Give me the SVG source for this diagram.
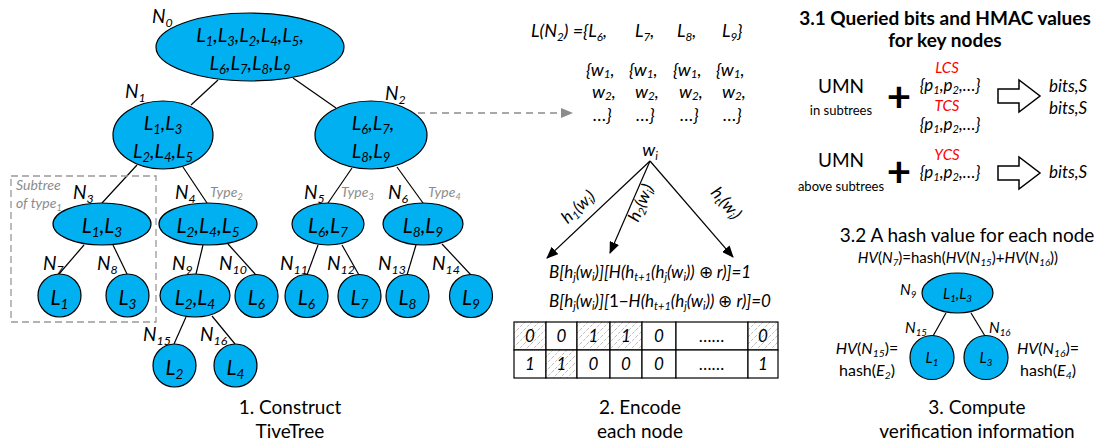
<svg xmlns="http://www.w3.org/2000/svg" width="1098" height="443" viewBox="0 0 1098 443">
  <style>
    text { font-family: Lato, "Open Sans", "Liberation Sans", sans-serif; fill: #000; }
    .i { font-style: italic; }
    .n { font-style: normal; }
    .b { font-weight: bold; }
    .sb { font-size: 65%; baseline-shift: -0.3em; }
    .sl { font-size: 65%; baseline-shift: -0.2em; }
    .f21 { font-size: 21px; }
    .f20 { font-size: 20px; }
    .f19 { font-size: 19px; }
    .f18 { font-size: 18px; }
    .f17 { font-size: 17px; }
    .f16 { font-size: 16px; }
    .f15 { font-size: 15px; }
    .f14 { font-size: 14px; }
    .f13 { font-size: 13px; }
    .gray { fill: #8c8c8c; }
    .red { fill: #ff0000; }
    .mid { text-anchor: middle; }
    .node { fill: #00b0f0; stroke: #000; stroke-width: 1.2; }
    .edge { stroke: #000; stroke-width: 1.2; fill: none; }
    .cell { fill: #fff; stroke: #000; stroke-width: 1.2; }
    .hatch { fill: url(#hatch); stroke: #000; stroke-width: 1.2; }
  </style>
  <defs>
    <pattern id="hatch" patternUnits="userSpaceOnUse" width="7" height="7">
      <rect width="7" height="7" fill="#fff"/>
      <path d="M-1,8 L8,-1" stroke="#b4b4b4" stroke-width="0.9" stroke-dasharray="3 1.5"/>
    </pattern>
    <marker id="ahBlack" viewBox="0 0 12 10" refX="11" refY="5" markerWidth="12" markerHeight="10" markerUnits="userSpaceOnUse" orient="auto">
      <path d="M0,0 L12,5 L0,10 Z" fill="#000"/>
    </marker>
    <marker id="ahGray" viewBox="0 0 12 10" refX="11" refY="5" markerWidth="12" markerHeight="10" markerUnits="userSpaceOnUse" orient="auto">
      <path d="M0,0 L12,5 L0,10 Z" fill="#8c8c8c"/>
    </marker>
  </defs>

  <rect width="1098" height="443" fill="#fff"/>

  <!-- ============ Part 1: tree ============ -->
  <g id="connectors">
    <line class="edge" x1="218" y1="80" x2="191" y2="105"/>
    <line class="edge" x1="293" y1="78" x2="336" y2="108"/>
    <line class="edge" x1="137" y1="165" x2="102" y2="203"/>
    <line class="edge" x1="183" y1="167" x2="207" y2="203"/>
    <line class="edge" x1="352" y1="168" x2="328" y2="203"/>
    <line class="edge" x1="397" y1="167" x2="423" y2="203"/>
    <line class="edge" x1="84" y1="245" x2="59" y2="274"/>
    <line class="edge" x1="113" y1="245" x2="127" y2="274"/>
    <line class="edge" x1="203" y1="245" x2="196" y2="274"/>
    <line class="edge" x1="228" y1="244" x2="256" y2="275"/>
    <line class="edge" x1="318" y1="245" x2="307" y2="275"/>
    <line class="edge" x1="342" y1="245" x2="359" y2="275"/>
    <line class="edge" x1="416" y1="245" x2="407" y2="275"/>
    <line class="edge" x1="442" y1="244" x2="471" y2="275"/>
    <line class="edge" x1="186" y1="317" x2="174" y2="344"/>
    <line class="edge" x1="212" y1="316" x2="235" y2="344"/>
    <!-- N2 leaf sets -->
    <line x1="418" y1="113" x2="572" y2="113" stroke="#8c8c8c" stroke-width="1.5" stroke-dasharray="7 5" marker-end="url(#ahGray)"/>
    <!-- hash functions -->
    <line class="edge" x1="650" y1="161" x2="547" y2="258" stroke-width="1.5" marker-end="url(#ahBlack)"/>
    <line class="edge" x1="650" y1="161" x2="610" y2="253" stroke-width="1.5" marker-end="url(#ahBlack)"/>
    <line class="edge" x1="650" y1="161" x2="733" y2="257" stroke-width="1.5" marker-end="url(#ahBlack)"/>
    <!-- small tree in 3.2 -->
    <line class="edge" x1="946" y1="313" x2="933" y2="336"/>
    <line class="edge" x1="971" y1="313" x2="985" y2="336"/>
  </g>

  <!-- subtree frame -->
  <g id="subtree-frame">
    <rect x="11" y="176" width="145" height="146" fill="none" stroke="#999" stroke-width="1.3" stroke-dasharray="7 4"/>
    <text class="i f14 gray" x="16" y="190">Subtree</text>
    <text class="i f14 gray" x="16" y="208">of type<tspan class="sb">1</tspan></text>
  </g>

  <g id="N0">
    <ellipse class="node" cx="250" cy="47" rx="94" ry="34"/>
    <text class="i f19" x="152" y="23">N<tspan class="sb">0</tspan></text>
    <text class="i f20 mid" x="250" y="42">L<tspan class="sb">1</tspan>,L<tspan class="sb">3</tspan>,L<tspan class="sb">2</tspan>,L<tspan class="sb">4</tspan>,L<tspan class="sb">5</tspan>,</text>
    <text class="i f20 mid" x="250" y="70">L<tspan class="sb">6</tspan>,L<tspan class="sb">7</tspan>,L<tspan class="sb">8</tspan>,L<tspan class="sb">9</tspan></text>
  </g>
  <g id="N1">
    <ellipse class="node" cx="163" cy="135" rx="50" ry="34"/>
    <text class="i f19" x="125" y="98">N<tspan class="sb">1</tspan></text>
    <text class="i f20 mid" x="163" y="130">L<tspan class="sb">1</tspan>,L<tspan class="sb">3</tspan></text>
    <text class="i f20 mid" x="163" y="158">L<tspan class="sb">2</tspan>,L<tspan class="sb">4</tspan>,L<tspan class="sb">5</tspan></text>
  </g>
  <g id="N2">
    <ellipse class="node" cx="371" cy="135" rx="56" ry="34"/>
    <text class="i f19" x="385" y="100">N<tspan class="sb">2</tspan></text>
    <text class="i f20 mid" x="373" y="130">L<tspan class="sb">6</tspan>,L<tspan class="sb">7</tspan>,</text>
    <text class="i f20 mid" x="371" y="158">L<tspan class="sb">8</tspan>,L<tspan class="sb">9</tspan></text>
  </g>
  <g id="N3">
    <ellipse class="node" cx="102" cy="224" rx="49" ry="21"/>
    <text class="i f19" x="73" y="199">N<tspan class="sb">3</tspan></text>
    <text class="i f21 mid" x="102" y="233">L<tspan class="sb">1</tspan>,L<tspan class="sb">3</tspan></text>
  </g>
  <g id="N4">
    <ellipse class="node" cx="208" cy="224" rx="49" ry="21"/>
    <text class="i f19" x="175" y="199">N<tspan class="sb">4</tspan></text>
    <text class="i f14 gray" x="210" y="197">Type<tspan class="sb">2</tspan></text>
    <text class="i f21 mid" x="208" y="233">L<tspan class="sb">2</tspan>,L<tspan class="sb">4</tspan>,L<tspan class="sb">5</tspan></text>
  </g>
  <g id="N5">
    <ellipse class="node" cx="328" cy="224" rx="36" ry="21"/>
    <text class="i f19" x="304" y="199">N<tspan class="sb">5</tspan></text>
    <text class="i f14 gray" x="341" y="197">Type<tspan class="sb">3</tspan></text>
    <text class="i f21 mid" x="328" y="233">L<tspan class="sb">6</tspan>,L<tspan class="sb">7</tspan></text>
  </g>
  <g id="N6">
    <ellipse class="node" cx="423" cy="224" rx="40" ry="21"/>
    <text class="i f19" x="388" y="199">N<tspan class="sb">6</tspan></text>
    <text class="i f14 gray" x="428" y="197">Type<tspan class="sb">4</tspan></text>
    <text class="i f21 mid" x="423" y="233">L<tspan class="sb">8</tspan>,L<tspan class="sb">9</tspan></text>
  </g>
  <g id="N7">
    <circle class="node" cx="59.5" cy="295.5" r="21.5"/>
    <text class="i f19" x="43" y="270">N<tspan class="sb">7</tspan></text>
    <text class="i f21 mid" x="59.5" y="305">L<tspan class="sb">1</tspan></text>
  </g>
  <g id="N8">
    <circle class="node" cx="127.5" cy="295.5" r="21.5"/>
    <text class="i f19" x="97" y="270">N<tspan class="sb">8</tspan></text>
    <text class="i f21 mid" x="127.5" y="305">L<tspan class="sb">3</tspan></text>
  </g>
  <g id="N9">
    <ellipse class="node" cx="195" cy="295.5" rx="35" ry="21.5"/>
    <text class="i f19" x="172" y="270">N<tspan class="sb">9</tspan></text>
    <text class="i f21 mid" x="195" y="305">L<tspan class="sb">2</tspan>,L<tspan class="sb">4</tspan></text>
  </g>
  <g id="N10">
    <circle class="node" cx="256.5" cy="296" r="21.5"/>
    <text class="i f19" x="219" y="270">N<tspan class="sb">10</tspan></text>
    <text class="i f21 mid" x="256.5" y="305">L<tspan class="sb">6</tspan></text>
  </g>
  <g id="N11">
    <circle class="node" cx="306.5" cy="296" r="21.5"/>
    <text class="i f19" x="280" y="270">N<tspan class="sb">11</tspan></text>
    <text class="i f21 mid" x="306.5" y="305">L<tspan class="sb">6</tspan></text>
  </g>
  <g id="N12">
    <circle class="node" cx="359.5" cy="296" r="21.5"/>
    <text class="i f19" x="327" y="270">N<tspan class="sb">12</tspan></text>
    <text class="i f21 mid" x="359.5" y="305">L<tspan class="sb">7</tspan></text>
  </g>
  <g id="N13">
    <circle class="node" cx="407.5" cy="296" r="21.5"/>
    <text class="i f19" x="378" y="270">N<tspan class="sb">13</tspan></text>
    <text class="i f21 mid" x="407.5" y="305">L<tspan class="sb">8</tspan></text>
  </g>
  <g id="N14">
    <circle class="node" cx="471" cy="296" r="21.5"/>
    <text class="i f19" x="432" y="270">N<tspan class="sb">14</tspan></text>
    <text class="i f21 mid" x="471" y="305">L<tspan class="sb">9</tspan></text>
  </g>
  <g id="N15">
    <circle class="node" cx="174.5" cy="365.5" r="21.5"/>
    <text class="i f19" x="143" y="341">N<tspan class="sb">15</tspan></text>
    <text class="i f21 mid" x="174.5" y="375">L<tspan class="sb">2</tspan></text>
  </g>
  <g id="N16">
    <circle class="node" cx="235.5" cy="365.5" r="21.5"/>
    <text class="i f19" x="200" y="341">N<tspan class="sb">16</tspan></text>
    <text class="i f21 mid" x="235.5" y="375">L<tspan class="sb">4</tspan></text>
  </g>

  <g id="caption-1">
    <text class="f19 mid" x="290" y="414">1. Construct</text>
    <text class="f19 mid" x="290" y="438">TiveTree</text>
  </g>

  <!-- ============ Part 2: encoding ============ -->
  <g id="leaf-sets">
    <text class="i f18" x="531" y="37">L(N<tspan class="sb">2</tspan>) ={L<tspan class="sb">6</tspan>,</text>
    <text class="i f18" x="635" y="37">L<tspan class="sb">7</tspan>,</text>
    <text class="i f18" x="677" y="37">L<tspan class="sb">8</tspan>,</text>
    <text class="i f18" x="722" y="37">L<tspan class="sb">9</tspan>}</text>

    <text class="i f18" x="586" y="76">{w<tspan class="sl">1</tspan>,</text>
    <text class="i f18" x="629" y="76">{w<tspan class="sl">1</tspan>,</text>
    <text class="i f18" x="673" y="76">{w<tspan class="sl">1</tspan>,</text>
    <text class="i f18" x="716" y="76">{w<tspan class="sl">1</tspan>,</text>
    <text class="i f18" x="592" y="98">w<tspan class="sl">2</tspan>,</text>
    <text class="i f18" x="635" y="98">w<tspan class="sl">2</tspan>,</text>
    <text class="i f18" x="679" y="98">w<tspan class="sl">2</tspan>,</text>
    <text class="i f18" x="722" y="98">w<tspan class="sl">2</tspan>,</text>
    <text class="i f18" x="593" y="121">…}</text>
    <text class="i f18" x="636" y="121">…}</text>
    <text class="i f18" x="680" y="121">…}</text>
    <text class="i f18" x="723" y="121">…}</text>
  </g>

  <g id="keyword">
    <text class="i f18 mid" x="650" y="156">w<tspan class="sb">i</tspan></text>
    <text class="i f17 mid" transform="translate(582,211) rotate(-43)">h<tspan class="sb">1</tspan>(w<tspan class="sb">i</tspan>)</text>
    <text class="i f17 mid" transform="translate(646,205) rotate(-66.5)">h<tspan class="sb">2</tspan>(w<tspan class="sb">i</tspan>)</text>
    <text class="i f17 mid" transform="translate(722,207) rotate(49)">h<tspan class="sb">t</tspan>(w<tspan class="sb">i</tspan>)</text>
  </g>

  <g id="bit-rules">
    <text class="i f17" x="549" y="278">B[h<tspan class="sb">j</tspan>(w<tspan class="sb">i</tspan>)][H(h<tspan class="sb">t+1</tspan>(h<tspan class="sb">j</tspan>(w<tspan class="sb">i</tspan>)) <tspan class="n">⊕</tspan> r)]=1</text>
    <text class="i f17" x="549" y="307">B[h<tspan class="sb">j</tspan>(w<tspan class="sb">i</tspan>)][<tspan class="n">1−</tspan>H(h<tspan class="sb">t+1</tspan>(h<tspan class="sb">j</tspan>(w<tspan class="sb">i</tspan>)) <tspan class="n">⊕</tspan> r)]=0</text>
  </g>

  <g id="bit-array">
    <rect class="hatch" x="514" y="322" width="32" height="28"/>
    <rect class="cell" x="546" y="322" width="31" height="28"/>
    <rect class="hatch" x="577" y="322" width="33" height="28"/>
    <rect class="hatch" x="610" y="322" width="32" height="28"/>
    <rect class="cell" x="642" y="322" width="34" height="28"/>
    <rect class="cell" x="676" y="322" width="72" height="28"/>
    <rect class="hatch" x="748" y="322" width="30" height="28"/>
    <rect class="cell" x="514" y="350" width="32" height="28"/>
    <rect class="hatch" x="546" y="350" width="31" height="28"/>
    <rect class="cell" x="577" y="350" width="33" height="28"/>
    <rect class="cell" x="610" y="350" width="32" height="28"/>
    <rect class="cell" x="642" y="350" width="34" height="28"/>
    <rect class="cell" x="676" y="350" width="72" height="28"/>
    <rect class="cell" x="748" y="350" width="30" height="28"/>
    <g class="i f17">
      <text class="mid" x="530" y="342">0</text>
      <text class="mid" x="561.5" y="342">0</text>
      <text class="mid" x="593.5" y="342">1</text>
      <text class="mid" x="626" y="342">1</text>
      <text class="mid" x="659" y="342">0</text>
      <text class="mid" x="712" y="342">……</text>
      <text class="mid" x="763" y="342">0</text>
      <text class="mid" x="530" y="370">1</text>
      <text class="mid" x="561.5" y="370">1</text>
      <text class="mid" x="593.5" y="370">0</text>
      <text class="mid" x="626" y="370">0</text>
      <text class="mid" x="659" y="370">0</text>
      <text class="mid" x="712" y="370">……</text>
      <text class="mid" x="763" y="370">1</text>
    </g>
  </g>

  <g id="caption-2">
    <text class="f19 mid" x="640" y="414">2. Encode</text>
    <text class="f19 mid" x="640" y="438">each node</text>
  </g>

  <!-- ============ Part 3: verification ============ -->
  <g id="queried-bits">
    <text class="b f19 mid" x="945" y="25">3.1 Queried bits and HMAC values</text>
    <text class="b f19 mid" x="945" y="47">for key nodes</text>

    <text class="f19 mid" x="841" y="93">UMN</text>
    <text class="f13 mid" x="841" y="115">in subtrees</text>
    <text class="b mid" x="899" y="112" font-size="42">+</text>
    <text class="i f15 red mid" x="947" y="73">LCS</text>
    <text class="i f17 mid" x="950" y="91">{p<tspan class="sb">1</tspan>,p<tspan class="sb">2</tspan>,…}</text>
    <text class="i f15 red mid" x="947" y="111">TCS</text>
    <text class="i f17 mid" x="950" y="130">{p<tspan class="sb">1</tspan>,p<tspan class="sb">2</tspan>,…}</text>
    <path d="M998,89 H1019 V80 L1040,96 L1019,112 V103 H998 Z" fill="#fff" stroke="#000" stroke-width="1.5"/>
    <text class="i f17" x="1049" y="92">bits,S</text>
    <text class="i f17" x="1049" y="114">bits,S</text>

    <text class="f19 mid" x="841" y="167">UMN</text>
    <text class="f13 mid" x="841" y="191">above subtrees</text>
    <text class="b mid" x="899" y="187" font-size="42">+</text>
    <text class="i f15 red mid" x="947" y="160">YCS</text>
    <text class="i f17 mid" x="950" y="178">{p<tspan class="sb">1</tspan>,p<tspan class="sb">2</tspan>,…}</text>
    <path d="M998,166 H1019 V157 L1040,173 L1019,189 V180 H998 Z" fill="#fff" stroke="#000" stroke-width="1.5"/>
    <text class="i f17" x="1049" y="178">bits,S</text>
  </g>

  <g id="hash-values">
    <text class="f19 mid" x="967" y="242">3.2 A hash value for each node</text>
    <text class="f15 mid" x="958" y="263"><tspan class="i">HV</tspan>(<tspan class="i">N<tspan class="sb">7</tspan></tspan>)=hash(<tspan class="i">HV</tspan>(<tspan class="i">N<tspan class="sb">15</tspan></tspan>)+<tspan class="i">HV</tspan>(<tspan class="i">N<tspan class="sb">16</tspan></tspan>))</text>
  </g>
  <g id="H-N9">
    <ellipse class="node" cx="957.5" cy="293" rx="35.5" ry="20"/>
    <text class="i f15" x="900" y="295">N<tspan class="sb">9</tspan></text>
    <text class="i f15 mid" x="957.5" y="299">L<tspan class="sb">1</tspan>,L<tspan class="sb">3</tspan></text>
  </g>
  <g id="H-N15">
    <circle class="node" cx="932" cy="357.5" r="22"/>
    <text class="i f15" x="905" y="333">N<tspan class="sb">15</tspan></text>
    <text class="i f15 mid" x="932" y="363">L<tspan class="sb">1</tspan></text>
    <text class="f16 mid" x="867" y="354"><tspan class="i">HV</tspan>(<tspan class="i">N<tspan class="sb">15</tspan></tspan>)=</text>
    <text class="f16 mid" x="867" y="376">hash(<tspan class="i">E<tspan class="sb">2</tspan></tspan>)</text>
  </g>
  <g id="H-N16">
    <circle class="node" cx="986" cy="357.5" r="22"/>
    <text class="i f15" x="989" y="333">N<tspan class="sb">16</tspan></text>
    <text class="i f15 mid" x="986" y="363">L<tspan class="sb">3</tspan></text>
    <text class="f16 mid" x="1048" y="354"><tspan class="i">HV</tspan>(<tspan class="i">N<tspan class="sb">16</tspan></tspan>)=</text>
    <text class="f16 mid" x="1048" y="376">hash(<tspan class="i">E<tspan class="sb">4</tspan></tspan>)</text>
  </g>

  <g id="caption-3">
    <text class="f19 mid" x="977" y="414">3. Compute</text>
    <text class="f19 mid" x="977" y="438">verification information</text>
  </g>
</svg>
